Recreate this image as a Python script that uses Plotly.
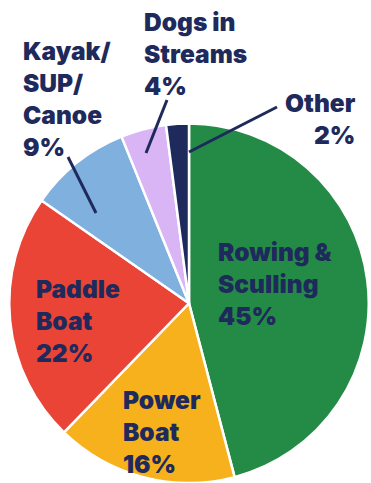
import plotly.graph_objects as go

# Share of reports by activity (percent)
categories = ["Rowing & Sculling", "Power Boat", "Paddle Boat",
              "Kayak/SUP/Canoe", "Dogs in Streams", "Other"]
values = [45, 16, 22, 9, 4, 2]
# How each category name wraps inside its label
label_lines = [["Rowing &", "Sculling"], ["Power", "Boat"], ["Paddle", "Boat"],
               ["Kayak/", "SUP/", "Canoe"], ["Dogs in", "Streams"], ["Other"]]

colors = ["#248B46", "#F6B11C", "#E94436", "#7FB0DE", "#DAB5F6", "#1E2A5B"]
NAVY = "#1F2A5C"
W, H = 371, 483


def px(x):
    return x / W


def py(y):
    return 1 - y / H


fig = go.Figure(go.Pie(
    labels=categories,
    values=values,
    sort=False,
    direction="clockwise",
    rotation=0,
    marker=dict(colors=colors, line=dict(color="white", width=2.5)),
    textinfo="none",
    hoverinfo="label+percent",
    domain=dict(x=[px(8), px(370)], y=[0, py(123.5)]),
))

# Label placement: (left/right x, top y, anchor) per category
label_pos = [
    (216, 235, "left"),
    (121, 383, "left"),
    (34, 272, "left"),
    (21, 34, "left"),
    (142, 5, "left"),
    (358, 86, "right"),
]

annotations = []
for lines, v, (x, y, anchor) in zip(label_lines, values, label_pos):
    text = "<br>".join(lines + [f"{v}%"])
    annotations.append(dict(
        x=px(x), y=py(y), xref="paper", yref="paper",
        xanchor=anchor, yanchor="top", align=anchor,
        text=text, showarrow=False,
        font=dict(family="Inter, Lato, sans-serif", size=24.5, color=NAVY, weight=900),
    ))

# Leader lines for the small outside-labelled slices
leaders = [
    ((68, 157), (96, 213)),
    ((167, 100), (146, 153)),
    ((277, 107), (189, 152)),
]
shapes = [dict(type="line", xref="paper", yref="paper",
               x0=px(a[0]), y0=py(a[1]), x1=px(b[0]), y1=py(b[1]),
               line=dict(color=NAVY, width=3))
          for a, b in leaders]

fig.update_layout(
    width=W, height=H,
    margin=dict(l=0, r=0, t=0, b=0),
    paper_bgcolor="white",
    showlegend=False,
    annotations=annotations,
    shapes=shapes,
)

fig.write_html("out.html")
